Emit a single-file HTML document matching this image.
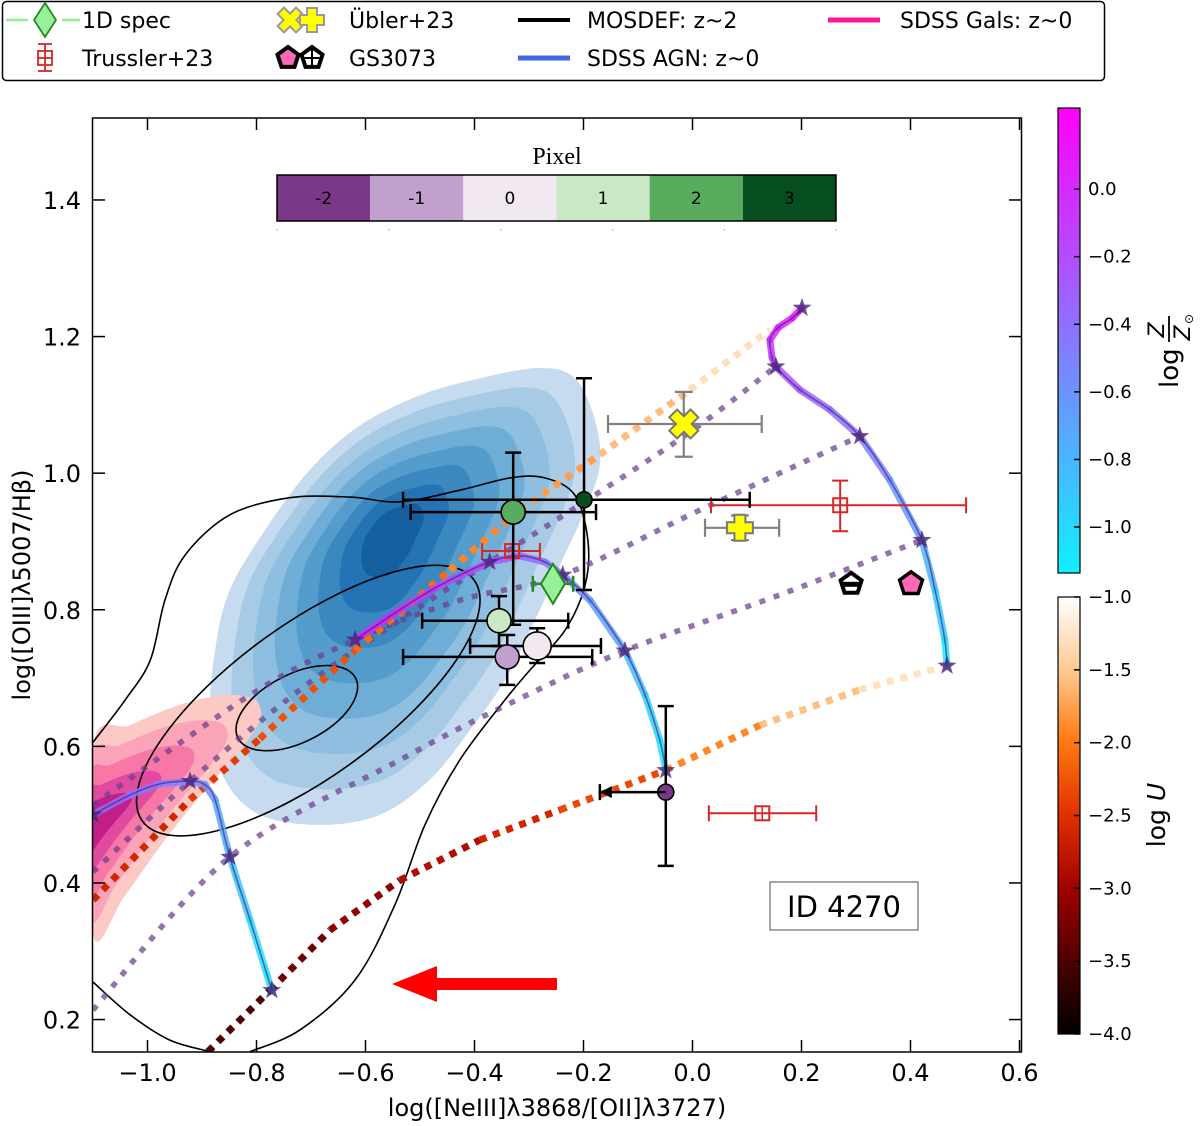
<!DOCTYPE html>
<html><head><meta charset="utf-8">
<style>
html,body{margin:0;padding:0;background:#fff;}
svg{display:block;font-family:"DejaVu Sans","Liberation Sans",sans-serif;}
</style></head>
<body>
<svg id="chart" width="1200" height="1126" viewBox="0 0 1200 1126" xmlns="http://www.w3.org/2000/svg">
<defs>
<clipPath id="plotclip"><rect x="93" y="118" width="928" height="934"/></clipPath>
<linearGradient id="zgrad" x1="0" y1="0" x2="0" y2="1"><stop offset="0" stop-color="#ff00ff"/><stop offset="1" stop-color="#0ff0ff"/></linearGradient>
<linearGradient id="ugrad" x1="0" y1="0" x2="0" y2="1">
<stop offset="0" stop-color="#ffffff"/><stop offset="0.17" stop-color="#ffc890"/><stop offset="0.33" stop-color="#ff7a10"/><stop offset="0.5" stop-color="#e03000"/><stop offset="0.67" stop-color="#a00000"/><stop offset="0.83" stop-color="#500000"/><stop offset="1" stop-color="#000000"/></linearGradient>
</defs>
<g id="plot" clip-path="url(#plotclip)"></g>
<g id="over"></g>
</svg>
<script>
// ---------- data ----------
const xTicks=[-1.0,-0.8,-0.6,-0.4,-0.2,0.0,0.2,0.4,0.6];
const xTickLabels=["\u22121.0","\u22120.8","\u22120.6","\u22120.4","\u22120.2","0.0","0.2","0.4","0.6"];
const yTicks=[0.2,0.4,0.6,0.8,1.0,1.2,1.4];
const yTickLabels=["0.2","0.4","0.6","0.8","1.0","1.2","1.4"];
const zTicks=[0.0,-0.2,-0.4,-0.6,-0.8,-1.0];
const zTickLabels=["0.0","\u22120.2","\u22120.4","\u22120.6","\u22120.8","\u22121.0"];
const uTicks=[-1.0,-1.5,-2.0,-2.5,-3.0,-3.5,-4.0];
const uTickLabels=["\u22121.0","\u22121.5","\u22122.0","\u22122.5","\u22123.0","\u22123.5","\u22124.0"];
const pixelCats=[-2,-1,0,1,2,3];
const pixelColors=["#7b3888","#c1a0cd","#f1e8f1","#c9e9c4","#59ab5e","#064d20"];

const topX=[0.201,0.183,0.157,0.142,0.146,0.153,0.197,0.252,0.307,0.362,0.421,0.445,0.463,0.467];
const topY=[1.242,1.227,1.213,1.195,1.169,1.156,1.122,1.093,1.054,0.990,0.902,0.829,0.756,0.718];
const topZ=[0.15,0.1,0.05,0.0,-0.1,-0.2,-0.3,-0.35,-0.45,-0.55,-0.7,-0.85,-1.0,-1.1];
const topStars=[0,5,8,10,13];
const midX=[-0.619,-0.537,-0.463,-0.372,-0.317,-0.271,-0.238,-0.188,-0.124,-0.087,-0.060,-0.049];
const midY=[0.756,0.800,0.836,0.870,0.879,0.870,0.851,0.814,0.740,0.675,0.609,0.565];
const midZ=[0.1,0.0,-0.1,-0.2,-0.3,-0.4,-0.5,-0.6,-0.75,-0.9,-1.0,-1.1];
const midStars=[0,3,6,8,11];
const lowX=[-1.1,-1.032,-0.977,-0.922,-0.895,-0.876,-0.849,-0.812,-0.772];
const lowY=[0.500,0.529,0.545,0.549,0.544,0.522,0.438,0.346,0.243];
const lowZ=[-0.35,-0.4,-0.45,-0.5,-0.55,-0.65,-0.8,-0.95,-1.1];
const lowStars=[0,3,6,8];
const uUpX=[-1.1,-0.922,-0.794,-0.619,-0.445,-0.317,-0.170,-0.005,0.142];
const uUpY=[0.375,0.522,0.611,0.741,0.858,0.946,1.027,1.122,1.210];
const uUpU=[-2.7,-2.5,-2.35,-2.2,-2.0,-1.85,-1.7,-1.45,-1.15];
const uLoX=[-0.889,-0.775,-0.665,-0.537,-0.390,-0.243,-0.049,0.124,0.307,0.467];
const uLoY=[0.153,0.243,0.331,0.404,0.463,0.507,0.565,0.631,0.683,0.718];
const uLoU=[-3.6,-3.4,-3.2,-3.0,-2.75,-2.5,-2.15,-1.7,-1.4,-1.15];
const isoAX=[-1.1,-0.922,-0.720,-0.537,-0.372,-0.212,-0.005,0.153];
const isoAY=[0.416,0.549,0.683,0.785,0.870,0.951,1.060,1.156];
const isoBX=[-1.1,-0.812,-0.619,-0.427,-0.238,0.014,0.307];
const isoBY=[0.514,0.675,0.756,0.814,0.851,0.946,1.054];
const isoCX=[-1.1,-0.849,-0.537,-0.340,-0.124,0.161,0.421];
const isoCY=[0.214,0.438,0.580,0.661,0.740,0.822,0.902];

const blueX=[-0.876,-0.849,-0.784,-0.702,-0.610,-0.50,-0.390,-0.280,-0.216,-0.179,-0.170,-0.197,-0.243,-0.289,-0.344,-0.408,-0.482,-0.573,-0.683,-0.794,-0.858,-0.885];
const blueY=[0.741,0.829,0.917,1.005,1.070,1.114,1.139,1.154,1.139,1.078,1.012,0.946,0.866,0.785,0.697,0.624,0.551,0.500,0.485,0.500,0.551,0.639];
const blueCenter=[-0.555,0.917];
const blueScales=[1,0.88,0.76,0.64,0.52,0.40,0.28,0.16];
const blueColors=["#c6dbef","#a7cbe5","#8ebfe0","#6eaed6","#539ccb","#3b88c0","#2473b5","#14609f"];
const pinkX=[-1.1,-1.1,-1.032,-0.940,-0.858,-0.803,-0.794,-0.830,-0.894,-0.968,-1.041];
const pinkY=[0.324,0.602,0.631,0.661,0.675,0.668,0.639,0.595,0.536,0.463,0.382];
const pinkCenter=[-1.13,0.47];
const pinkScales=[1,0.82,0.64,0.46,0.3];
const pinkColors=["#fcc9c4","#fba3b8","#f778a6","#e14a9e","#c21e88"];
const mosAX=[-1.1,-1.041,-0.995,-0.968,-0.931,-0.849,-0.739,-0.628,-0.537,-0.427,-0.335,-0.271,-0.216,-0.192,-0.197,-0.234,-0.298,-0.344,-0.427,-0.491,-0.546,-0.619,-0.720,-0.812];
const mosAY=[0.606,0.668,0.726,0.814,0.880,0.939,0.964,0.965,0.958,0.975,0.993,0.993,0.968,0.902,0.836,0.770,0.712,0.668,0.580,0.485,0.368,0.258,0.185,0.153];
const mosBX=[-1.1,-1.032,-0.959,-0.885];
const mosBY=[0.255,0.207,0.170,0.153];

const pixX=[-0.049,-0.340,-0.285,-0.355,-0.329,-0.199];
const pixY=[0.533,0.731,0.747,0.784,0.943,0.961];
const pixXlo=[-0.170,-0.531,-0.408,-0.496,-0.517,-0.531];
const pixXhi=[-0.049,-0.184,-0.168,-0.228,-0.177,0.105];
const pixYlo=[0.425,0.690,0.722,0.747,0.778,0.829];
const pixYhi=[0.659,0.763,0.773,0.820,1.030,1.139];
const pixVal=[-2,-1,0,1,2,3];
const specX=[-0.256], specY=[0.838], specXlo=[-0.293], specXhi=[-0.219];
const trX=[-0.331,0.271,0.128], trY=[0.886,0.953,0.502];
const trXlo=[-0.386,0.034,0.030], trXhi=[-0.280,0.502,0.227];
const trYlo=[0.886,0.915,0.502], trYhi=[0.886,0.989,0.502];
const ubXx=[-0.016], ubXy=[1.072], ubXxlo=[-0.155], ubXxhi=[0.127], ubXylo=[1.024], ubXyhi=[1.119];
const ubPx=[0.087], ubPy=[0.920], ubPxlo=[0.023], ubPxhi=[0.159], ubPylo=[0.902], ubPyhi=[0.938];
const gsX=[0.291,0.401], gsY=[0.838,0.838];

// ---------- helpers ----------
const NS="http://www.w3.org/2000/svg";
const X=v=>93+(v+1.1)*545;
const Y=v=>118+(1.52-v)*683;
function mk(tag,attrs,parent){const e=document.createElementNS(NS,tag);for(const k in attrs)e.setAttribute(k,attrs[k]);parent.appendChild(e);return e;}
const plot=document.getElementById('plot'), over=document.getElementById('over');
function lerpHex(a,b,t){const pa=[1,3,5].map(i=>parseInt(a.substr(i,2),16)),pb=[1,3,5].map(i=>parseInt(b.substr(i,2),16));return 'rgb('+pa.map((v,i)=>Math.round(v+(pb[i]-v)*t)).join(',')+')';}
function zColor(z){let t=(z+1.136)/(0.24+1.136);t=Math.max(0,Math.min(1,t));return lerpHex("#0ff0ff","#ff00ff",t);}
const uStops=[[-1,"#ffffff"],[-1.5,"#ffc890"],[-2,"#ff7a10"],[-2.5,"#e03000"],[-3,"#a00000"],[-3.5,"#500000"],[-4,"#000000"]];
function uColor(u){for(let i=0;i<uStops.length-1;i++){const[a,ca]=uStops[i],[b,cb]=uStops[i+1];if(u<=a&&u>=b)return lerpHex(ca,cb,(a-u)/(a-b));}return u>-1?"#ffffff":"#000000";}
function smoothPath(pts){let d='M'+pts[0][0]+','+pts[0][1];for(let i=0;i<pts.length;i++){const p0=pts[(i-1+pts.length)%pts.length],p1=pts[i],p2=pts[(i+1)%pts.length],p3=pts[(i+2)%pts.length];const c1=[p1[0]+(p2[0]-p0[0])/6,p1[1]+(p2[1]-p0[1])/6],c2=[p2[0]-(p3[0]-p1[0])/6,p2[1]-(p3[1]-p1[1])/6];d+=' C'+c1[0].toFixed(1)+','+c1[1].toFixed(1)+' '+c2[0].toFixed(1)+','+c2[1].toFixed(1)+' '+p2[0].toFixed(1)+','+p2[1].toFixed(1);}return d+'Z';}
function openSmooth(pts){let d='M'+pts[0][0]+','+pts[0][1];for(let i=0;i<pts.length-1;i++){const p0=pts[Math.max(0,i-1)],p1=pts[i],p2=pts[i+1],p3=pts[Math.min(pts.length-1,i+2)];const c1=[p1[0]+(p2[0]-p0[0])/6,p1[1]+(p2[1]-p0[1])/6],c2=[p2[0]-(p3[0]-p1[0])/6,p2[1]-(p3[1]-p1[1])/6];d+=' C'+c1[0].toFixed(1)+','+c1[1].toFixed(1)+' '+c2[0].toFixed(1)+','+c2[1].toFixed(1)+' '+p2[0].toFixed(1)+','+p2[1].toFixed(1);}return d;}
function starPts(cx,cy,r){let p=[];for(let i=0;i<10;i++){const a=-Math.PI/2+i*Math.PI/5,rr=i%2?r*0.4:r;p.push((cx+rr*Math.cos(a)).toFixed(1)+','+(cy+rr*Math.sin(a)).toFixed(1));}return p.join(' ');}
function pentPts(cx,cy,r){let p=[];for(let i=0;i<5;i++){const a=-Math.PI/2+i*2*Math.PI/5;p.push((cx+r*Math.cos(a)).toFixed(1)+','+(cy+r*Math.sin(a)).toFixed(1));}return p.join(' ');}
function crossPts(cx,cy,L,w,rot){const b=[[-w,-L],[w,-L],[w,-w],[L,-w],[L,w],[w,w],[w,L],[-w,L],[-w,w],[-L,w],[-L,-w],[-w,-w]];const c=Math.cos(rot),s=Math.sin(rot);return b.map(p=>(cx+p[0]*c-p[1]*s).toFixed(1)+','+(cy+p[0]*s+p[1]*c).toFixed(1)).join(' ');}
function errbar(g,x,y,xlo,xhi,ylo,yhi,col,lw,cap){
  const px=X(x),py=Y(y);
  if(xlo!==xhi){mk('line',{x1:X(xlo),y1:py,x2:X(xhi),y2:py,stroke:col,'stroke-width':lw},g);
    mk('line',{x1:X(xlo),y1:py-cap,x2:X(xlo),y2:py+cap,stroke:col,'stroke-width':lw},g);
    mk('line',{x1:X(xhi),y1:py-cap,x2:X(xhi),y2:py+cap,stroke:col,'stroke-width':lw},g);}
  if(ylo!==yhi){mk('line',{x1:px,y1:Y(ylo),x2:px,y2:Y(yhi),stroke:col,'stroke-width':lw},g);
    mk('line',{x1:px-cap,y1:Y(ylo),x2:px+cap,y2:Y(ylo),stroke:col,'stroke-width':lw},g);
    mk('line',{x1:px-cap,y1:Y(yhi),x2:px+cap,y2:Y(yhi),stroke:col,'stroke-width':lw},g);}
}

// ---------- KDE fills ----------
const gBlue=mk('g',{},plot);


blueScales.forEach((s,i)=>{
  const pts=blueX.map((v,j)=>[X(blueCenter[0]+(v-blueCenter[0])*s),Y(blueCenter[1]+(blueY[j]-blueCenter[1])*s)]);
  const p=mk('path',{d:smoothPath(pts),fill:blueColors[i]},gBlue);
  
  
});
const gPink=mk('g',{},plot);


pinkScales.forEach((s,i)=>{
  const pts=pinkX.map((v,j)=>[X(pinkCenter[0]+(v-pinkCenter[0])*s),Y(pinkCenter[1]+(pinkY[j]-pinkCenter[1])*s)]);
  const p=mk('path',{d:smoothPath(pts),fill:pinkColors[i]},gPink);
  
  
});
const gMos=mk('g',{fill:'none',stroke:'#000','stroke-width':1.6},plot);


mk('path',{d:openSmooth(mosAX.map((v,i)=>[X(v),Y(mosAY[i])]))},gMos);
mk('path',{d:openSmooth(mosBX.map((v,i)=>[X(v),Y(mosBY[i])]))},gMos);
const ellMid=[-0.705,0.667], ellIn=[-0.726,0.656];
mk('ellipse',{cx:X(ellMid[0]),cy:Y(ellMid[1]),rx:205,ry:76,transform:`rotate(-36 ${X(ellMid[0])} ${Y(ellMid[1])})`},gMos);
mk('ellipse',{cx:X(ellIn[0]),cy:Y(ellIn[1]),rx:66,ry:34,transform:`rotate(-27 ${X(ellIn[0])} ${Y(ellIn[1])})`},gMos);

// ---------- iso lines ----------
const gIso=mk('g',{fill:'none',stroke:'#6b3f8e','stroke-width':5.5,'stroke-dasharray':'6 9','stroke-opacity':0.72},plot);


[[isoAX,isoAY],[isoBX,isoBY],[isoCX,isoCY]].forEach(a=>{mk('path',{d:openSmooth(a[0].map((v,i)=>[X(v),Y(a[1][i])]))},gIso);});
function uTrack(xs,ys,us,name){
  const g=mk('g',{fill:'none','stroke-width':7,'stroke-dasharray':'7 7'},plot);
  
  
  for(let i=0;i<xs.length-1;i++){
    mk('line',{x1:X(xs[i]),y1:Y(ys[i]),x2:X(xs[i+1]),y2:Y(ys[i+1]),stroke:uColor((us[i]+us[i+1])/2)},g);
  }
}
uTrack(uUpX,uUpY,uUpU,'u-track-upper');
uTrack(uLoX,uLoY,uLoU,'u-track-lower');
function zTrack(xs,ys,zs,stars,name){
  const g=mk('g',{fill:'none'},plot);
  
  
  const pts=xs.map((v,i)=>[X(v),Y(ys[i])]);
  for(let i=0;i<xs.length-1;i++){
    mk('line',{x1:pts[i][0],y1:pts[i][1],x2:pts[i+1][0],y2:pts[i+1][1],stroke:zColor((zs[i]+zs[i+1])/2),'stroke-width':7,'stroke-linecap':'round','stroke-opacity':0.85},g);
  }
  mk('path',{d:openSmooth(pts),stroke:'#3b1f6e','stroke-width':1.6,'stroke-opacity':0.6},g);
  stars.forEach(k=>{const s=mk('polygon',{points:starPts(pts[k][0],pts[k][1],10),fill:'#4a2277','fill-opacity':0.8},g);
    
    });
}
zTrack(topX,topY,topZ,topStars,'z-track-top');
zTrack(midX,midY,midZ,midStars,'z-track-middle');
zTrack(lowX,lowY,lowZ,lowStars,'z-track-lower');

// ---------- observations ----------
const gObs=mk('g',{},plot);


trX.forEach((v,i)=>{
  errbar(gObs,v,trY[i],trXlo[i],trXhi[i],trYlo[i],trYhi[i],'#d62728',2,8);
  const px=X(v),py=Y(trY[i]);
  const r=mk('rect',{x:px-7,y:py-7,width:14,height:14,fill:'none',stroke:'#d62728','stroke-width':2},gObs);
  
  
  mk('line',{x1:px,y1:py-7,x2:px,y2:py+7,stroke:'#d62728','stroke-width':1.5},gObs);
  mk('line',{x1:px-7,y1:py,x2:px+7,y2:py,stroke:'#d62728','stroke-width':1.5},gObs);
});
errbar(gObs,ubXx[0],ubXy[0],ubXxlo[0],ubXxhi[0],ubXylo[0],ubXyhi[0],'#808080',2.2,9);
const ux=mk('polygon',{points:crossPts(X(ubXx[0]),Y(ubXy[0]),15,5.5,Math.PI/4),fill:'#ffff00',stroke:'#777','stroke-width':2},gObs);


errbar(gObs,ubPx[0],ubPy[0],ubPxlo[0],ubPxhi[0],ubPylo[0],ubPyhi[0],'#808080',2.2,9);
const up=mk('polygon',{points:crossPts(X(ubPx[0]),Y(ubPy[0]),13,5.5,0),fill:'#ffff00',stroke:'#777','stroke-width':2},gObs);


const pixOrder=[5,4,3,1,2,0];
pixOrder.forEach(i=>{
  errbar(gObs,pixX[i],pixY[i],pixXlo[i],pixXhi[i],pixYlo[i],pixYhi[i],'#000',2.5,8);
});
pixOrder.forEach(i=>{
  const r=(pixVal[i]===-2||pixVal[i]===3)?8:(pixVal[i]===0?14:12);
  const c=mk('circle',{cx:X(pixX[i]),cy:Y(pixY[i]),r:r,fill:pixelColors[pixelCats.indexOf(pixVal[i])],stroke:'#000','stroke-width':1.6},gObs);
  
  
});
(function(){const py=Y(pixY[0]),x0=X(pixX[0]),x1=X(pixXlo[0]);
 mk('line',{x1:x0,y1:py,x2:x1+8,y2:py,stroke:'#000','stroke-width':2.2},gObs);
 mk('polygon',{points:`${x1},${py} ${x1+12},${py-6} ${x1+12},${py+6}`,fill:'#000'},gObs);})();
(function(){const px=X(specX[0]),py=Y(specY[0]);
 mk('line',{x1:X(specXlo[0]),y1:py,x2:X(specXhi[0]),y2:py,stroke:'#228b22','stroke-width':2.5},gObs);
 mk('line',{x1:X(specXlo[0]),y1:py-8,x2:X(specXlo[0]),y2:py+8,stroke:'#228b22','stroke-width':2.5},gObs);
 mk('line',{x1:X(specXhi[0]),y1:py-8,x2:X(specXhi[0]),y2:py+8,stroke:'#228b22','stroke-width':2.5},gObs);
 const d=mk('polygon',{points:`${px},${py-20} ${px+12},${py} ${px},${py+20} ${px-12},${py}`,fill:'#98f098',stroke:'#228b22','stroke-width':2},gObs);
 
 })();
(function(){
 const p1=mk('polygon',{points:pentPts(X(gsX[0]),Y(gsY[0]),11),fill:'#fff',stroke:'#000','stroke-width':4},gObs);
 
 
 mk('rect',{x:X(gsX[0])-10,y:Y(gsY[0])-2,width:20,height:5,fill:'#000'},gObs);
 const p2=mk('polygon',{points:pentPts(X(gsX[1]),Y(gsY[1]),12),fill:'#ff69b4',stroke:'#000','stroke-width':3.5},gObs);
 
 })();
const arr=mk('polygon',{points:'557,978 437,978 437,966 392,984 437,1002 437,990 557,990',fill:'#ff0000'},plot);



// ---------- axes ----------
const gAx=mk('g',{},over);


mk('rect',{x:92.5,y:118,width:929,height:934,fill:'none',stroke:'#000','stroke-width':1.5},gAx);
xTicks.forEach((v,i)=>{const px=X(v);
  mk('line',{x1:px,y1:1052,x2:px,y2:1040,stroke:'#000','stroke-width':1.5},gAx);
  mk('line',{x1:px,y1:118,x2:px,y2:130,stroke:'#000','stroke-width':1.5},gAx);
  const t=mk('text',{x:px,y:1081,'text-anchor':'middle','font-size':24,fill:'#000'},gAx);t.textContent=xTickLabels[i];
  
  });
yTicks.forEach((v,i)=>{const py=Y(v);
  mk('line',{x1:93,y1:py,x2:105,y2:py,stroke:'#000','stroke-width':1.5},gAx);
  mk('line',{x1:1021,y1:py,x2:1009,y2:py,stroke:'#000','stroke-width':1.5},gAx);
  const t=mk('text',{x:81,y:py+9,'text-anchor':'end','font-size':24,fill:'#000'},gAx);t.textContent=yTickLabels[i];
  
  });
const xt=mk('text',{x:557,y:1116,'text-anchor':'middle','font-size':24,fill:'#000'},gAx);xt.textContent='log([NeIII]\u03bb3868/[OII]\u03bb3727)';


const yt=mk('text',{x:0,y:0,'text-anchor':'middle','font-size':24,fill:'#000',transform:'translate(30,585) rotate(-90)'},gAx);yt.textContent='log([OIII]\u03bb5007/H\u03b2)';



const idb=mk('g',{},over);


mk('rect',{x:770,y:882,width:148,height:48,fill:'#fff',stroke:'#888','stroke-width':1.5},idb);
const idt=mk('text',{x:844,y:917,'text-anchor':'middle','font-size':29,fill:'#000'},idb);idt.textContent='ID 4270';

const gPix=mk('g',{},over);


const pt=mk('text',{x:557,y:164,'text-anchor':'middle','font-size':24,'font-family':'Liberation Serif, serif',fill:'#000'},gPix);pt.textContent='Pixel';
const cw=(836-277)/pixelCats.length;
pixelCats.forEach((c,i)=>{
  const r=mk('rect',{x:277+i*cw,y:175,width:cw,height:46,fill:pixelColors[i]},gPix);
  
  
  const t=mk('text',{x:277+(i+0.5)*cw,y:204,'text-anchor':'middle','font-size':17,fill:'#000'},gPix);t.textContent=String(c);
  mk('rect',{x:277+i*(836-277)/5-0.5,y:229,width:1.5,height:1.5,fill:'#bbb'},gPix);
});
mk('rect',{x:277,y:175,width:559,height:46,fill:'none',stroke:'#000','stroke-width':1.5},gPix);

const gZ=mk('g',{},over);


mk('rect',{x:1058,y:108,width:22,height:465,fill:'url(#zgrad)',stroke:'#000','stroke-width':1.2},gZ);
const ZY=v=>108+(0.24-v)*(465/1.376);
zTicks.forEach((v,i)=>{const py=ZY(v);
  mk('line',{x1:1074,y1:py,x2:1080,y2:py,stroke:'#000','stroke-width':1.5},gZ);
  const t=mk('text',{x:1088,y:py+6,'font-size':18,fill:'#000'},gZ);t.textContent=zTickLabels[i];});
const zlab=mk('g',{transform:'translate(1178,388) rotate(-90)'},gZ);


const zl1=mk('text',{x:0,y:0,'font-size':26,fill:'#000'},zlab);zl1.textContent='log';
const zl2=mk('text',{x:58,y:-14,'font-size':22,'font-style':'italic','text-anchor':'middle',fill:'#000'},zlab);zl2.textContent='Z';
mk('line',{x1:46,y1:-9,x2:72,y2:-9,stroke:'#000','stroke-width':1.8},zlab);
const zl3=mk('text',{x:55,y:12,'font-size':22,'font-style':'italic','text-anchor':'middle',fill:'#000'},zlab);zl3.textContent='Z';
const zl4=mk('text',{x:69,y:15,'font-size':12,'text-anchor':'middle',fill:'#000'},zlab);zl4.textContent='\u2299';

const gU=mk('g',{},over);


mk('rect',{x:1058,y:597,width:22,height:437,fill:'url(#ugrad)',stroke:'#000','stroke-width':1.2},gU);
const UY=v=>597+(-1-v)*(437/3);
uTicks.forEach((v,i)=>{const py=UY(v);
  mk('line',{x1:1074,y1:py,x2:1080,y2:py,stroke:'#000','stroke-width':1.5},gU);
  const t=mk('text',{x:1088,y:py+6,'font-size':18,fill:'#000'},gU);t.textContent=uTickLabels[i];});
const ul=mk('text',{x:0,y:0,'font-size':25,'text-anchor':'middle',fill:'#000',transform:'translate(1165,815) rotate(-90)'},gU);
ul.innerHTML='log <tspan font-style="italic">U</tspan>';

// ---------- legend ----------
const gL=mk('g',{},over);


mk('rect',{x:2.5,y:1.5,width:1102,height:79,rx:4,fill:'#fff',stroke:'#000','stroke-width':1.5},gL);
function ltext(x,y,s){const t=mk('text',{x:x,y:y,'font-size':22,fill:'#000'},gL);t.textContent=s;}
mk('line',{x1:6,y1:20,x2:28,y2:20,stroke:'#90ee90','stroke-width':2.5},gL);
mk('line',{x1:62,y1:20,x2:80,y2:20,stroke:'#90ee90','stroke-width':2.5},gL);
mk('polygon',{points:'45,3 56,20 45,37 34,20',fill:'#98f098',stroke:'#228b22','stroke-width':1.8},gL);
ltext(82,28,'1D spec');
mk('line',{x1:45,y1:44,x2:45,y2:71,stroke:'#d62728','stroke-width':1.8},gL);
mk('line',{x1:38,y1:44,x2:52,y2:44,stroke:'#d62728','stroke-width':1.8},gL);
mk('line',{x1:38,y1:71,x2:52,y2:71,stroke:'#d62728','stroke-width':1.8},gL);
mk('rect',{x:38,y:51,width:14,height:14,fill:'none',stroke:'#d62728','stroke-width':1.8},gL);
mk('line',{x1:38,y1:58,x2:52,y2:58,stroke:'#d62728','stroke-width':1.8},gL);
ltext(82,66,'Trussler+23');
mk('polygon',{points:crossPts(290,20,13,4.5,Math.PI/4),fill:'#ffff00',stroke:'#999','stroke-width':2},gL);
mk('polygon',{points:crossPts(312,20,12,5,0),fill:'#ffff00',stroke:'#999','stroke-width':2},gL);
ltext(349,28,'\u00dcbler+23');
mk('polygon',{points:pentPts(288,58,11),fill:'#ff69b4',stroke:'#000','stroke-width':4},gL);
mk('polygon',{points:pentPts(312,58,11),fill:'#fff',stroke:'#000','stroke-width':4},gL);
mk('line',{x1:312,y1:48,x2:312,y2:68,stroke:'#000','stroke-width':2},gL);
mk('line',{x1:302,y1:58,x2:322,y2:58,stroke:'#000','stroke-width':2},gL);
ltext(349,66,'GS3073');
mk('line',{x1:518,y1:20,x2:570,y2:20,stroke:'#000','stroke-width':4},gL);
ltext(587,28,'MOSDEF: z~2');
mk('line',{x1:518,y1:58,x2:570,y2:58,stroke:'#4169e1','stroke-width':5},gL);
ltext(587,66,'SDSS AGN: z~0');
mk('line',{x1:828,y1:20,x2:880,y2:20,stroke:'#ff1493','stroke-width':5},gL);
ltext(900,28,'SDSS Gals: z~0');
</script>
</body></html>
